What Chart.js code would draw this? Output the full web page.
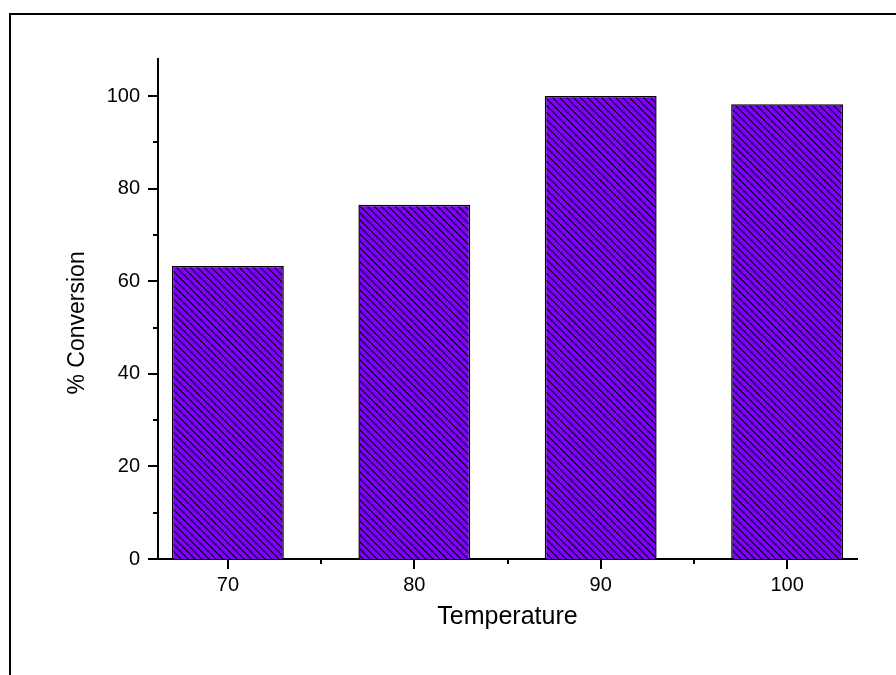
<!DOCTYPE html>
<html>
<head>
<meta charset="utf-8">
<script src="https://cdn.jsdelivr.net/npm/chart.js@4.4.0/dist/chart.umd.min.js"></script>
<style>
  html, body { margin: 0; padding: 0; background: #fff; }
</style>
</head>
<body>
<canvas id="myChart" width="896" height="675"></canvas>
<script>
// data
const temperatures = [70, 80, 90, 100]
const conversion = [63.3, 76.5, 100, 98.2]
const xTickValues = [70, 75, 80, 85, 90, 95, 100]
const yTickValues = [0, 10, 20, 30, 40, 50, 60, 70, 80, 90, 100]

const font = '"Liberation Sans", Arial, sans-serif'

// purple fill with black "\" hatching
const makeHatch = () => {
  const size = 7
  const c = document.createElement('canvas')
  c.width = size
  c.height = size
  const g = c.getContext('2d')
  g.fillStyle = '#7f00ff'
  g.fillRect(0, 0, size, size)
  g.strokeStyle = '#000'
  g.lineWidth = 1.2
  g.beginPath()
  for (let k = -1; k <= 1; k++) {
    g.moveTo(k * size, 0)
    g.lineTo(k * size + size, size)
  }
  g.stroke()
  return g.createPattern(c, 'repeat')
}

// outer frame (only top and left edges show)
const framePlugin = {
  id: 'frame',
  beforeDraw(chart) {
    const { ctx, width, height } = chart
    ctx.save()
    ctx.fillStyle = '#fff'
    ctx.fillRect(0, 0, width, height)
    ctx.strokeStyle = '#000'
    ctx.lineWidth = 2
    ctx.beginPath()
    ctx.moveTo(10, height)
    ctx.lineTo(10, 14)
    ctx.lineTo(width, 14)
    ctx.stroke()
    ctx.restore()
  }
}

// outward tick marks, long for labelled ticks, short for the others
const tickPlugin = {
  id: 'tickMarks',
  afterDraw(chart) {
    const { ctx, scales: { x, y } } = chart
    ctx.save()
    ctx.strokeStyle = '#000'
    ctx.lineWidth = 2
    x.ticks.forEach(t => {
      const px = Math.round(x.getPixelForValue(t.value))
      const len = t.value % 10 === 0 ? 10 : 5
      ctx.beginPath()
      ctx.moveTo(px, y.bottom)
      ctx.lineTo(px, y.bottom + len)
      ctx.stroke()
    })
    y.ticks.forEach(t => {
      const py = Math.round(y.getPixelForValue(t.value))
      const len = t.value % 20 === 0 ? 10 : 5
      ctx.beginPath()
      ctx.moveTo(x.left, py)
      ctx.lineTo(x.left - len, py)
      ctx.stroke()
    })
    // y title
    ctx.fillStyle = '#000'
    ctx.font = '23px ' + font
    ctx.textAlign = 'center'
    ctx.textBaseline = 'middle'
    ctx.translate(78, y.getPixelForValue(51))
    ctx.rotate(-Math.PI / 2)
    ctx.fillText('% Conversion', 0, 0)
    ctx.restore()
  }
}

const ctx = document.getElementById('myChart')

new Chart(ctx, {
  type: 'bar',
  data: {
    datasets: [{
      label: '% Conversion',
      data: temperatures.map((t, i) => ({ x: t, y: conversion[i] })),
      backgroundColor: makeHatch(),
      borderColor: '#000',
      borderWidth: 1.5,
      // sample size is the 5-unit tick gap, bars span 6 units
      barPercentage: 1.2,
      categoryPercentage: 1
    }]
  },
  options: {
    responsive: false,
    animation: false,
    devicePixelRatio: 1,
    layout: { padding: { left: 0, top: 59, right: 39, bottom: 0 } },
    plugins: {
      legend: { display: false },
      tooltip: { enabled: false }
    },
    scales: {
      x: {
        type: 'linear',
        min: 66.25,
        max: 103.75,
        offset: false,
        z: 1,
        grid: { display: false, tickLength: 10, offset: false },
        border: { display: true, color: '#000', width: 2 },
        afterBuildTicks: scale => {
          scale.ticks = xTickValues.map(v => ({ value: v }))
        },
        afterFit: scale => { scale.height = 116 },
        ticks: {
          autoSkip: false,
          maxRotation: 0,
          padding: 4,
          color: '#000',
          font: { family: font, size: 20 },
          callback: v => (v % 10 === 0 ? v : '')
        },
        title: {
          display: true,
          text: 'Temperature',
          color: '#000',
          font: { family: font, size: 25 },
          padding: { top: 0, bottom: 43 }
        }
      },
      y: {
        min: 0,
        max: 108,
        z: 1,
        grid: { display: false, tickLength: 10 },
        border: { display: true, color: '#000', width: 2 },
        afterBuildTicks: scale => {
          scale.ticks = yTickValues.map(v => ({ value: v }))
        },
        afterFit: scale => { scale.width = 158 },
        ticks: {
          autoSkip: false,
          padding: 8,
          color: '#000',
          font: { family: font, size: 20 },
          callback: v => (v % 20 === 0 ? v : '')
        }
      }
    }
  },
  plugins: [framePlugin, tickPlugin]
})
</script>
</body>
</html>
